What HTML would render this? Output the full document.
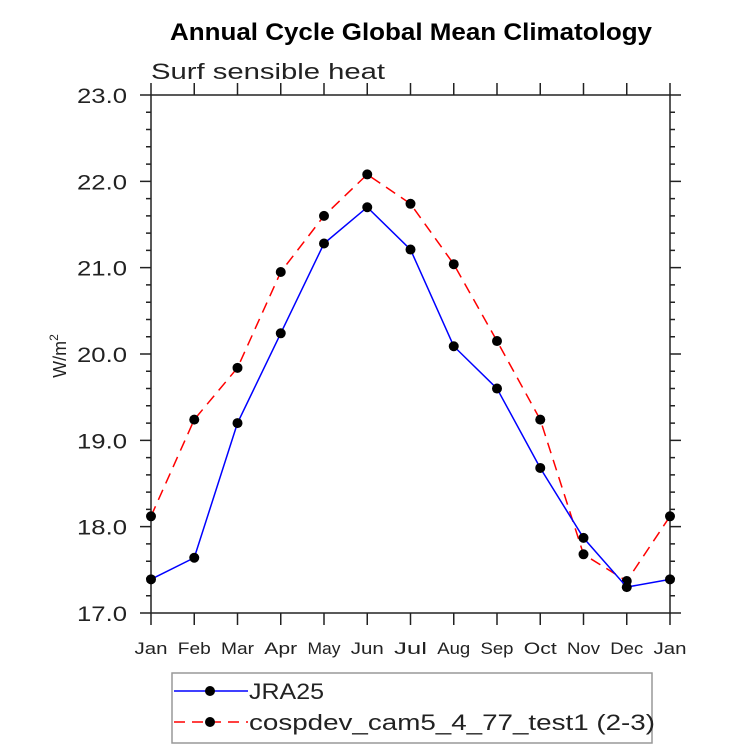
<!DOCTYPE html>
<html><head><meta charset="utf-8"><style>
body{margin:0;background:#fff;}
svg text{font-family:"Liberation Sans",sans-serif;fill:#222;}
</style></head><body>
<svg width="733" height="748" id="c">
<text x="170" y="40" textLength="482" lengthAdjust="spacingAndGlyphs" font-size="24" font-weight="bold" style="fill:#000">Annual Cycle Global Mean Climatology</text>
<text x="151" y="79" font-size="22" textLength="234" lengthAdjust="spacingAndGlyphs">Surf sensible heat</text>
<text transform="translate(66,356) rotate(-90)" text-anchor="middle" font-size="18">W/m<tspan dy="-8" font-size="12">2</tspan></text>
<g id="axes"></g><g id="series"></g>
<rect x="172" y="673" width="480" height="70" fill="none" stroke="#999" stroke-width="1.5"/>
<g>
<line x1="174" y1="691" x2="248" y2="691" stroke="#00f" stroke-width="1.5"/><circle cx="210" cy="691" r="5" fill="#000"/>
<text x="249" y="699" font-size="22" textLength="75" lengthAdjust="spacingAndGlyphs">JRA25</text></g>
<g>
<line x1="174" y1="722" x2="248" y2="722" stroke="#f00" stroke-width="1.5" stroke-dasharray="11,7"/><circle cx="210" cy="722" r="5" fill="#000"/>
<text x="249" y="730" font-size="22" textLength="406" lengthAdjust="spacingAndGlyphs">cospdev_cam5_4_77_test1 (2-3)</text></g>
</svg>
<script>
const months=["Jan","Feb","Mar","Apr","May","Jun","Jul","Aug","Sep","Oct","Nov","Dec","Jan"];
const jra25=[17.39,17.64,19.20,20.24,21.28,21.70,21.21,20.09,19.60,18.68,17.87,17.30,17.39];
const cospdev=[18.12,19.24,19.84,20.95,21.60,22.08,21.74,21.04,20.15,19.24,17.68,17.37,18.12];
const yTicks=[17,18,19,20,21,22,23];
const NS="http://www.w3.org/2000/svg";
const L=151,R=670,T=95,B=613,ymin=17,ymax=23;
const xs=i=>L+i*(R-L)/(months.length-1);
const ys=v=>B-(v-ymin)/(ymax-ymin)*(B-T);
function mk(t,a,p){const e=document.createElementNS(NS,t);for(const k in a)e.setAttribute(k,a[k]);p.appendChild(e);return e;}
const ax=document.getElementById('axes');
const fr=mk('rect',{x:L,y:T,width:R-L,height:B-T,fill:'none',stroke:'#222','stroke-width':1.5},ax);


let d='';
months.forEach((m,i)=>{const x=xs(i);d+=`M${x},${B}V${B+12}M${x},${T}V${T-12}`;
const t=mk('text',{x:x,y:654,'text-anchor':'middle','font-size':17,textLength:33,lengthAdjust:'spacingAndGlyphs'},ax);t.textContent=m;

});
for(let v=ymin;v<=ymax+1e-9;v+=0.2){const y=ys(v);const maj=Math.abs(v-Math.round(v))<1e-6;const l=maj?11:5;d+=`M${L},${y}H${L-l}M${R},${y}H${R+l}`;}
yTicks.forEach(v=>{const t=mk('text',{x:77,y:ys(v)+8,'font-size':21,textLength:50,lengthAdjust:'spacingAndGlyphs'},ax);t.textContent=v.toFixed(1);

});
const tk=mk('path',{d:d,stroke:'#222','stroke-width':1.5,fill:'none'},ax);


const sg=document.getElementById('series');
function series(vals,col,dash,name){
const p=mk('polyline',{points:vals.map((v,i)=>xs(i)+','+ys(v)).join(' '),fill:'none',stroke:col,'stroke-width':1.5,'stroke-dasharray':dash},sg);


vals.forEach((v,i)=>{const c=mk('circle',{cx:xs(i),cy:ys(v),r:5,fill:'#000'},sg);

});}
series(cospdev,'#f00','11,7','cospdev');
series(jra25,'#00f','none','jra25');
</script>
</body></html>
